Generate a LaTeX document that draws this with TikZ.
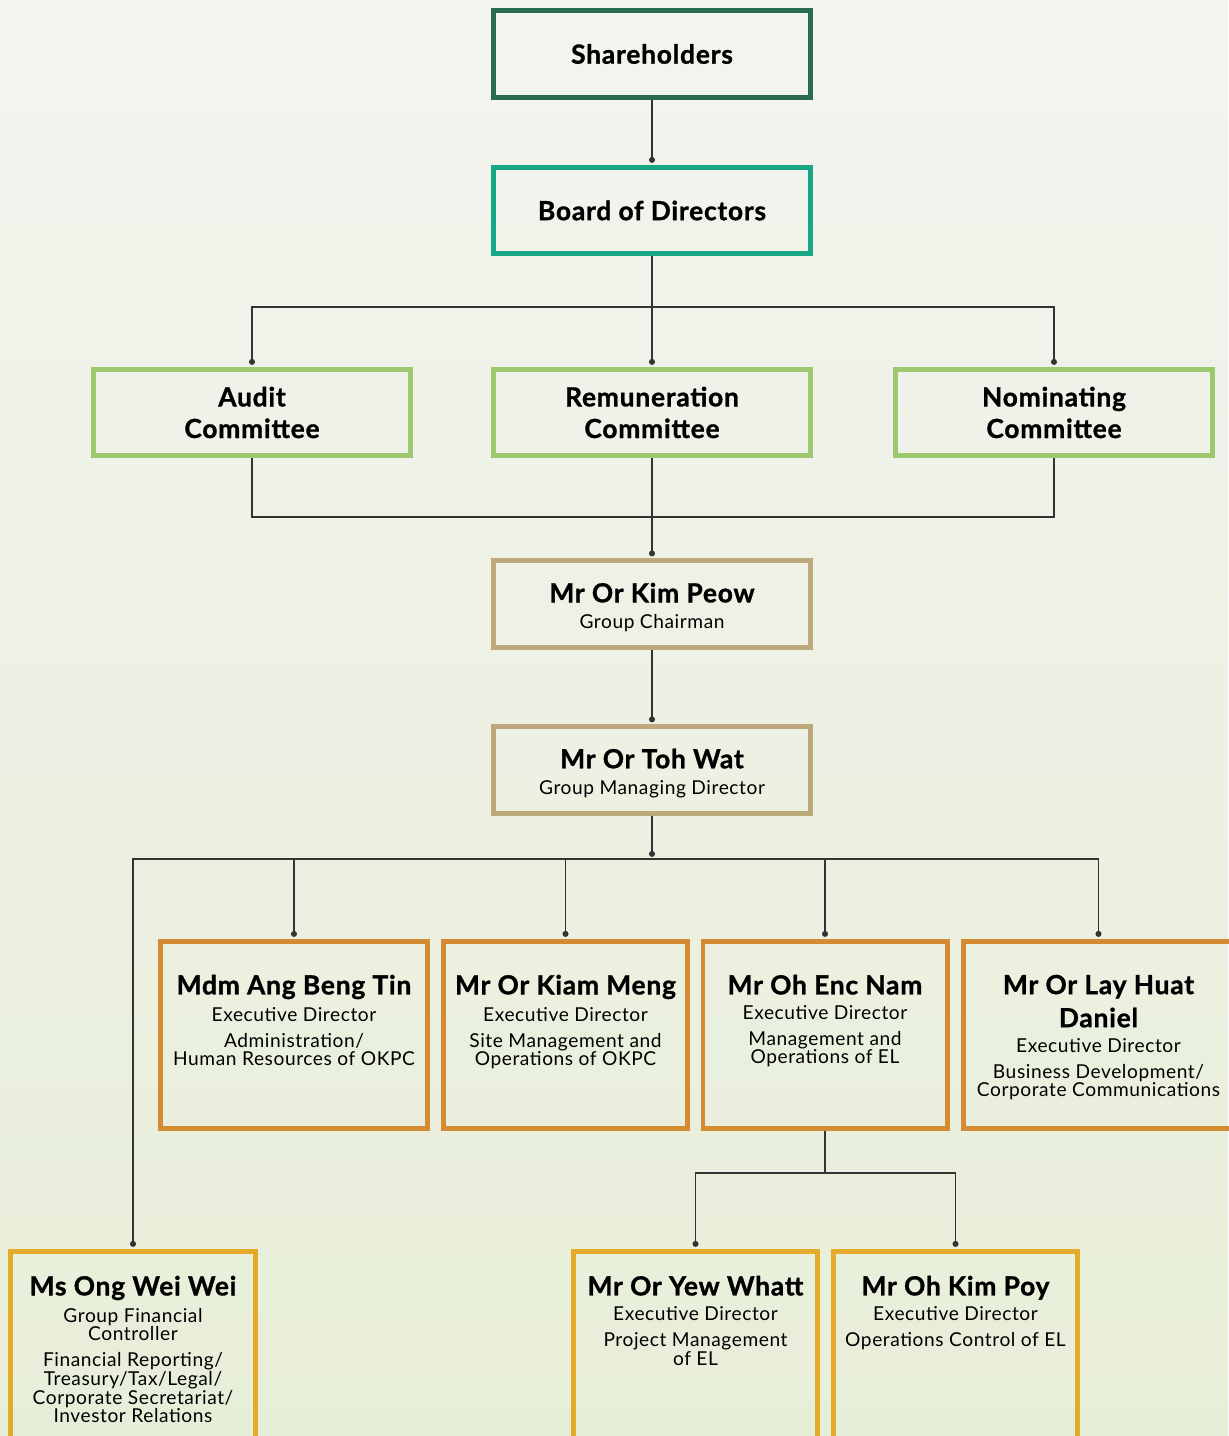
\documentclass[tikz,border=0pt]{standalone}
\usepackage{fontspec}
\setmainfont{Lato}[LetterSpace=3,BoldFeatures={FakeBold=1.1}]
\usetikzlibrary{arrows.meta,positioning}

\definecolor{shgreen}{RGB}{42,106,80}
\definecolor{bdteal}{RGB}{22,166,132}
\definecolor{cmgreen}{RGB}{157,200,112}
\definecolor{tanbox}{RGB}{189,169,124}
\definecolor{orbox}{RGB}{212,139,50}
\definecolor{ylbox}{RGB}{229,170,42}
\definecolor{bgtop}{RGB}{243,244,239}
\definecolor{bgbot}{RGB}{231,238,216}

\newcommand{\nm}[1]{{\fontsize{15}{18}\selectfont\bfseries #1}}
\newcommand{\sub}{\fontsize{10.9}{10.6}\selectfont\mdseries}

\begin{document}
\begin{tikzpicture}[x=0.02cm,y=-0.02cm,>={Circle[length=3.4pt]},
    box/.style={rectangle,draw,line width=2.6pt,inner sep=0,align=center,
      minimum width=6.34cm,minimum height=1.73cm,font=\fontsize{15}{18}\selectfont\bfseries},
    tall/.style={rectangle,draw,line width=2.6pt,minimum width=4.89cm,minimum height=3.75cm},
    info/.style={inner sep=0,align=center,font=\sub},
    wire/.style={line width=0.75pt,draw=black!80},
    link/.style={wire,->,shorten >=1.2pt}]

  % page and background
  \useasboundingbox (0,0) rectangle (1228,1436);
  \shade[top color=bgtop,bottom color=bgbot] (0,0) rectangle (1228,1436);

  % board level
  \node[box,draw=shgreen] (share) at (652,54) {Shareholders};
  \node[box,draw=bdteal]  (board) at (652,210.5) {Board of Directors};
  \node[box,draw=cmgreen] (audit) at (252,412.5) {Audit\\Committee};
  \node[box,draw=cmgreen] (remun) at (652,412.5) {Remuneration\\Committee};
  \node[box,draw=cmgreen] (nomin) at (1054,412.5) {Nominating\\Committee};

  % group heads
  \node[box,draw=tanbox] (chair) at (652,604) {\rule{0pt}{15pt}Mr Or Kim Peow\\[-3pt]\sub Group Chairman};
  \node[box,draw=tanbox] (gmd) at (652,770) {\rule{0pt}{15pt}Mr Or Toh Wat\\[-3pt]\sub Group Managing Director};

  % executive directors
  \node[tall,draw=orbox,minimum width=5.35cm] (ang) at (294,1035) {};
  \node[tall,draw=orbox] (kiam) at (565.5,1035) {};
  \node[tall,draw=orbox] (ohen) at (825,1035) {};
  \node[tall,draw=orbox,minimum width=5.4cm] (lay) at (1098.5,1035) {};
  \node[tall,draw=ylbox,minimum width=4.91cm] (ong) at (133,1345) {};
  \node[tall,draw=ylbox] (yew) at (695.5,1345) {};
  \node[tall,draw=ylbox] (poy) at (955.5,1345) {};

  \node[info,below=0.71cm of ang.north] (angtxt) {\nm{Mdm Ang Beng Tin}\\[3.6pt]
    Executive Director\\[4.2pt] Administration/\\ Human Resources of OKPC};
  \node[info,below=0.71cm of kiam.north] (kiamtxt) {\nm{Mr Or Kiam Meng}\\[3.6pt]
    Executive Director\\[4.2pt] Site Management and\\ Operations of OKPC};
  \node[info,below=0.71cm of ohen.north] (ohentxt) {\nm{Mr Oh Enc Nam}\\[3.6pt]
    Executive Director\\[4.2pt] Management and\\ Operations of EL};
  \node[info,below=0.71cm of lay.north] (laytxt) {\nm{Mr Or Lay Huat}\\[4.2pt]
    \nm{Daniel}\\[3.6pt] Executive Director\\[4.2pt] Business Development/\\
    Corporate Communications};
  \node[info,below=0.53cm of ong.north] (ongtxt) {\nm{Ms Ong Wei Wei}\\[3.6pt]
    Group Financial\\ Controller\\[4.2pt] Financial Reporting/\\
    Treasury/Tax/Legal/\\ Corporate Secretariat/\\ Investor Relations};
  \node[info,below=0.53cm of yew.north] (yewtxt) {\nm{Mr Or Yew Whatt}\\[3.6pt]
    Executive Director\\[4.2pt] Project Management\\ of EL};
  \node[info,below=0.53cm of poy.north] (poytxt) {\nm{Mr Oh Kim Poy}\\[3.6pt]
    Executive Director\\[4.2pt] Operations Control of EL};

  % forks
  \coordinate (bfork) at (652,307);
  \coordinate (cjoin) at (652,517);
  \coordinate (mfork) at (652,859);
  \coordinate (efork) at (825,1173);

  % connectors
  \draw[link] (share) -- (board);
  \draw[link] (board) -- (remun);
  \draw[link] (bfork) -| (audit);
  \draw[link] (bfork) -| (nomin);
  \draw[wire] (audit) |- (cjoin) -| (nomin);
  \draw[link] (remun) -- (chair);
  \draw[link] (chair) -- (gmd);
  \draw[link] (gmd) -- (mfork);
  \draw[link] (mfork) -| (ong);
  \draw[link] (mfork) -| (ang);
  \draw[link] (mfork) -| (kiam);
  \draw[link] (mfork) -| (ohen);
  \draw[link] (mfork) -| (lay);
  \draw[wire] (ohen) -- (efork);
  \draw[link] (efork) -| (yew);
  \draw[link] (efork) -| (poy);
\end{tikzpicture}
\end{document}
